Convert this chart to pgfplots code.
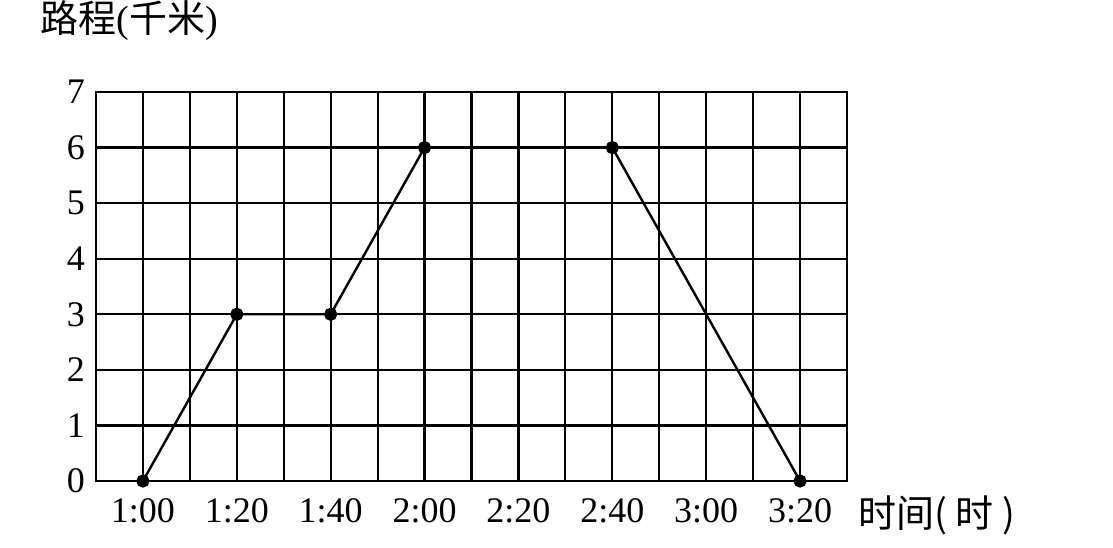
\documentclass[border=0pt]{standalone}
\usepackage{fontspec}
\setmainfont{Liberation Serif}
\newfontfamily\cjk{Noto Sans CJK SC}
\usepackage{pgfplots}
\pgfplotsset{compat=1.18}
\begin{document}
\begin{tikzpicture}
\path[use as bounding box] (0,0) rectangle (556.5pt,273.5pt);
\begin{axis}[
  at={(48pt,33pt)}, anchor=south west,
  scale only axis, width=375.5pt, height=194.5pt,
  xmin=50, xmax=210, ymin=0, ymax=7,
  xtick={60,80,...,200},
  xticklabels={1:00,1:20,1:40,2:00,2:20,2:40,3:00,3:20},
  minor xtick={50,70,...,210},
  ytick={0,1,...,7},
  grid=both,
  major grid style={black, line width=1.1pt},
  minor grid style={black, line width=1.1pt},
  axis line style={black, line width=1.3pt},
  major tick length=0pt, minor tick length=0pt,
  tick style={draw=none},
  /pgf/number format/assume math mode=true,
  ticklabel style={font=\fontsize{18}{20}\selectfont, text=black},
  xticklabel style={yshift=-5pt},
  yticklabel style={xshift=-2pt},
  clip=false,
]
\addplot[black, line width=1.2pt, mark=*, mark size=2.7pt] coordinates {
  (60,0) (80,3) (100,3) (120,6) (160,6) (200,0)
};
\end{axis}
\node[anchor=west, inner sep=0pt, font=\fontsize{19}{21}\selectfont] at (20pt,263pt) {\cjk 路程{\rmfamily(}千米{\rmfamily)}};
\node[anchor=west, inner sep=0pt, font=\fontsize{19}{21}\selectfont] at (429pt,16pt) {\cjk 时间( 时 )};
\end{tikzpicture}
\end{document}
